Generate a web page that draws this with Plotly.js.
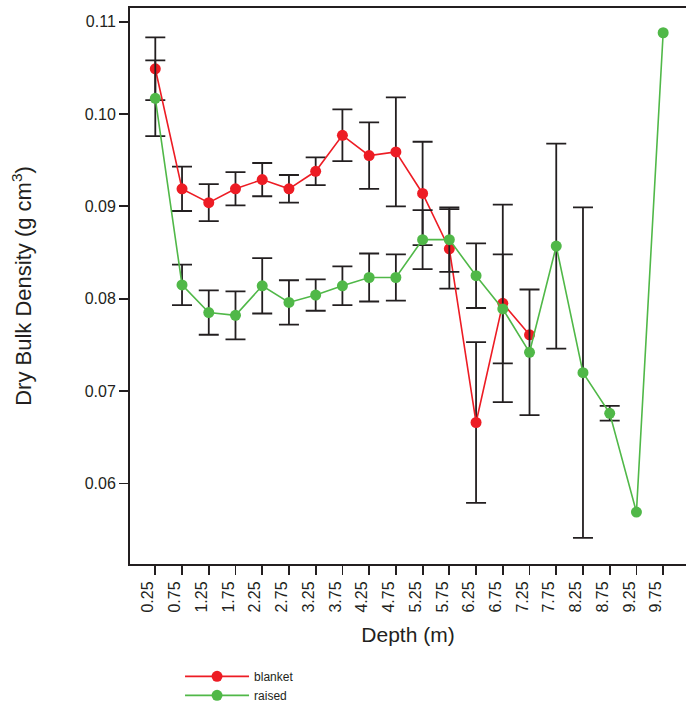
<!DOCTYPE html>
<html>
<head>
<meta charset="utf-8">
<script src="https://cdn.plot.ly/plotly-3.0.1.min.js"></script>
<style>html,body{margin:0;padding:0;background:#fff;}#chart{width:686px;height:711px;}</style>
</head>
<body>
<div id="chart"></div>
<script>
// Depth categories (m)
const depth = [0.25, 0.75, 1.25, 1.75, 2.25, 2.75, 3.25, 3.75, 4.25, 4.75,
               5.25, 5.75, 6.25, 6.75, 7.25, 7.75, 8.25, 8.75, 9.25, 9.75];
const depthLabels = ["0.25","0.75","1.25","1.75","2.25","2.75","3.25","3.75","4.25","4.75",
                     "5.25","5.75","6.25","6.75","7.25","7.75","8.25","8.75","9.25","9.75"];

// Blanket bog series (0.25 - 7.25 m)
const blanketDepth = [0.25, 0.75, 1.25, 1.75, 2.25, 2.75, 3.25, 3.75, 4.25, 4.75,
                      5.25, 5.75, 6.25, 6.75, 7.25];
const blanket = [0.1049, 0.0919, 0.0904, 0.0919, 0.0929, 0.0919, 0.0938, 0.0977, 0.0955, 0.0959,
                 0.0914, 0.0854, 0.0666, 0.0795, 0.0761];
// error bars (last point, 7.25 m, has none)
const blanketErr = [0.0034, 0.0024, 0.0020, 0.0018, 0.0018, 0.0015, 0.0015, 0.0028, 0.0036, 0.0059,
                    0.0056, 0.0043, 0.0087, 0.0107];

// Raised bog series (0.25 - 9.75 m)
const raised = [0.1017, 0.0815, 0.0785, 0.0782, 0.0814, 0.0796, 0.0804, 0.0814, 0.0823, 0.0823,
                0.0864, 0.0864, 0.0825, 0.0789, 0.0742, 0.0857, 0.0720, 0.0676, 0.0569, 0.1088];
// error bars (9.25 and 9.75 m have none)
const raisedErr = [0.0041, 0.0022, 0.0024, 0.0026, 0.0030, 0.0024, 0.0017, 0.0021, 0.0026, 0.0025,
                   0.0032, 0.0035, 0.0035, 0.0059, 0.0068, 0.0111, 0.0179, 0.0008];

const yTicks = [0.06, 0.07, 0.08, 0.09, 0.10, 0.11];
const yTickText = ["0.06", "0.07", "0.08", "0.09", "0.10", "0.11"];

const ink = '#231F20';
const FONT = 'Liberation Sans, Arial, Helvetica, sans-serif';

const errStyle = (arr) => ({type: 'data', array: arr, visible: true, color: ink, thickness: 1.8, width: 10});

const traces = [
  {
    x: blanketDepth, y: blanket, name: 'blanket', type: 'scatter', mode: 'lines+markers',
    line: {color: '#ED1C24', width: 1.6},
    marker: {color: '#ED1C24', size: 11},
    error_y: errStyle(blanketErr)
  },
  {
    x: depth, y: raised, name: 'raised', type: 'scatter', mode: 'lines+markers',
    line: {color: '#50B848', width: 1.6},
    marker: {color: '#50B848', size: 11},
    error_y: errStyle(raisedErr)
  }
];

const layout = {
  width: 686, height: 711,
  margin: {l: 130, r: 0, t: 8, b: 147},
  paper_bgcolor: '#fff', plot_bgcolor: '#fff',
  font: {family: FONT, color: ink},
  showlegend: true,
  legend: {
    x: 0.09, y: -0.176, xanchor: 'left', yanchor: 'top',
    font: {size: 12, color: ink, family: FONT},
    itemwidth: 64, tracegroupgap: 0, bgcolor: 'rgba(0,0,0,0)'
  },
  xaxis: {
    range: [-0.2233, 10.177],
    tickmode: 'array', tickvals: depth, ticktext: depthLabels,
    tickangle: -90, ticks: 'outside', ticklen: 9, tickwidth: 1.8, tickcolor: ink,
    tickfont: {size: 16, color: ink, family: FONT},
    ticklabelshift: -7,
    showline: true, linecolor: ink, linewidth: 2, mirror: true,
    showgrid: false, zeroline: false,
    title: {text: 'Depth (m)', font: {size: 21, color: ink, family: FONT}, standoff: 16}
  },
  yaxis: {
    range: [0.05128, 0.11148],
    tickmode: 'array', tickvals: yTicks, ticktext: yTickText,
    ticks: 'outside', ticklen: 9, tickwidth: 1.8, tickcolor: ink,
    tickfont: {size: 16, color: ink, family: FONT},
    showline: true, linecolor: ink, linewidth: 2, mirror: false,
    showgrid: false, zeroline: false,
    title: {text: 'Dry Bulk Density (g cm<sup>3</sup>)', font: {size: 22, color: ink, family: FONT}, standoff: 47}
  }
};

Plotly.newPlot('chart', traces, layout, {displayModeBar: false, staticPlot: true});
</script>
</body>
</html>
